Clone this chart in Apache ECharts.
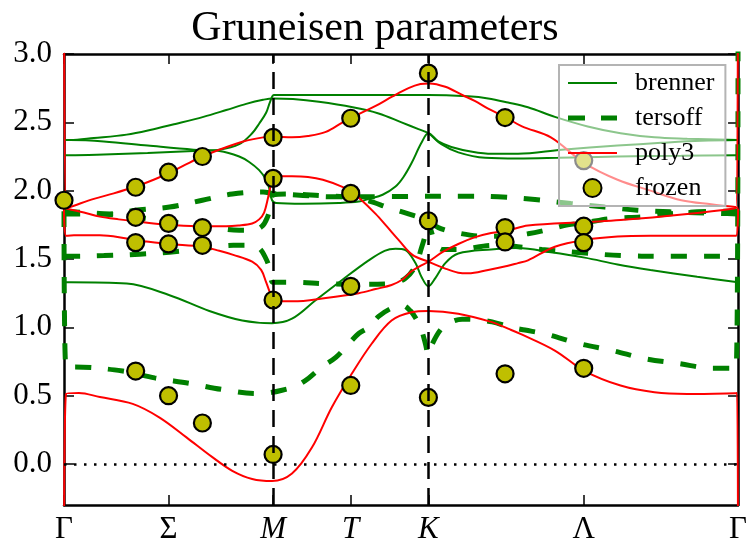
<!DOCTYPE html>
<html>
<head>
<meta charset="utf-8">
<script src="https://cdn.jsdelivr.net/npm/echarts@6/dist/echarts.min.js"></script>
<style>
    html, body { margin: 0; padding: 0; background: #fff; }
    #container { width: 750px; height: 546px; }
</style>
</head>
<body>
<div id="container"></div>
<script>
    // 路径上的刻度
    let tickLabels = ['Γ', 'Σ', 'M', 'T', 'K', 'Λ', 'Γ'];
    let tickPos = [0, 105, 210, 288, 366, 522, 677];
    let yTicks = [0, 0.5, 1, 1.5, 2, 2.5, 3];

    // brenner
    let brenner1 = [[0,2.37],[6,2.37],[30,2.385],[63,2.41],[90,2.45],[113,2.49],[140,2.54],[163,2.59],[183,2.635],[200,2.665],[210,2.675],[230,2.67],[256,2.65],[290,2.61],[316,2.565],[339,2.50],[356,2.45],[366,2.42],[379,2.34],[396,2.28],[423,2.24],[456,2.235],[496,2.24],[556,2.25],[620,2.255],[677,2.26]];
    let brenner2 = [[0,2.26],[6,2.26],[40,2.265],[84,2.275],[130,2.29],[156,2.30],[176,2.34],[189,2.42],[196,2.49],[203,2.57],[207,2.65],[211,2.70],[230,2.70],[280,2.70],[330,2.70],[366,2.70],[406,2.69],[426,2.675],[446,2.645],[466,2.61],[493,2.54],[526,2.47],[559,2.42],[593,2.39],[626,2.38],[677,2.37]];
    let brenner3 = [[0,2.37],[6,2.37],[40,2.36],[84,2.33],[130,2.30],[156,2.29],[176,2.25],[186,2.21],[196,2.15],[203,2.08],[206,2.02],[209,1.93],[213,1.91],[240,1.905],[276,1.91],[296,1.92],[306,1.94],[320,1.97],[333,2.03],[341,2.10],[349,2.20],[359,2.35],[366,2.42],[376,2.36],[389,2.32],[410,2.285],[430,2.27],[456,2.27],[500,2.30],[556,2.33],[600,2.35],[640,2.365],[677,2.37]];
    let brenner4 = [[0,1.33],[6,1.33],[63,1.32],[106,1.235],[146,1.12],[179,1.05],[209,1.03],[229,1.063],[253,1.20],[279,1.345],[306,1.49],[322,1.56],[333,1.575],[343,1.565],[353,1.47],[359,1.37],[366,1.30],[373,1.36],[383,1.47],[396,1.54],[429,1.57],[456,1.58],[489,1.55],[523,1.51],[556,1.46],[589,1.42],[636,1.37],[677,1.33]];

    // tersoff
    let tersoff1 = [[0,1.83],[6,1.83],[43,1.83],[76,1.86],[106,1.88],[139,1.93],[169,1.975],[200,1.99],[210,1.98],[240,1.965],[270,1.955],[330,1.957],[406,1.96],[436,1.955],[473,1.935],[509,1.906],[543,1.88],[576,1.857],[609,1.845],[659,1.834],[677,1.83]];
    let tersoff2 = [[0,1.85],[40,1.83],[80,1.80],[120,1.76],[150,1.73],[176,1.71],[190,1.71],[199,1.74],[204,1.80],[208,1.90],[210,1.97],[230,1.975],[256,1.965],[290,1.95],[306,1.925],[326,1.875],[346,1.83],[366,1.78],[376,1.73],[396,1.69],[423,1.665],[446,1.67],[466,1.685],[489,1.72],[506,1.75],[523,1.765],[548,1.795],[582,1.81],[617,1.837],[651,1.848],[677,1.85]];
    let tersoff3 = [[0,1.52],[6,1.52],[40,1.525],[76,1.535],[106,1.55],[140,1.575],[170,1.60],[186,1.60],[196,1.58],[203,1.50],[207,1.42],[210,1.33],[233,1.33],[260,1.32],[290,1.315],[329,1.32],[343,1.36],[353,1.45],[359,1.58],[363,1.68],[366,1.78],[369,1.70],[373,1.62],[380,1.57],[396,1.57],[430,1.60],[456,1.59],[480,1.57],[520,1.545],[560,1.525],[600,1.52],[677,1.52]];
    let tersoff4 = [[0,1.85],[2,0.71],[11,0.71],[59,0.68],[91,0.63],[126,0.59],[159,0.545],[193,0.515],[205,0.52],[219,0.54],[233,0.57],[246,0.63],[259,0.71],[273,0.78],[286,0.88],[296,0.955],[306,1.0],[316,1.08],[329,1.14],[340,1.16],[348,1.12],[353,1.07],[359,0.98],[363,0.88],[366,0.80],[370,0.88],[378,0.98],[386,1.03],[400,1.06],[416,1.055],[430,1.04],[449,1.0],[463,0.98],[484,0.95],[518,0.88],[551,0.83],[584,0.77],[618,0.735],[651,0.70],[675,0.70],[677,3.2]];

    // poly3
    let poly1 = [[0,4],[2,1.87],[10,1.89],[30,1.94],[50,1.98],[72,2.03],[90,2.08],[106,2.13],[122,2.19],[139,2.25],[160,2.31],[180,2.36],[200,2.39],[210,2.395],[229,2.39],[245,2.40],[263,2.43],[280,2.50],[296,2.56],[313,2.62],[330,2.69],[346,2.75],[358,2.78],[367,2.785],[383,2.76],[400,2.70],[413,2.655],[426,2.60],[443,2.54],[460,2.47],[489,2.39],[523,2.20],[556,2.08],[589,2.00],[620,1.93],[650,1.90],[675,1.88],[677,4]];
    let poly2 = [[2,1.87],[20,1.84],[36,1.81],[55,1.79],[73,1.775],[90,1.76],[106,1.75],[139,1.74],[163,1.74],[175,1.745],[189,1.76],[196,1.79],[201,1.84],[205,1.95],[207,2.02],[210,2.09],[220,2.105],[229,2.105],[245,2.10],[260,2.08],[279,2.03],[289,1.99],[296,1.95],[313,1.83],[324,1.74],[336,1.64],[350,1.53],[366,1.48],[383,1.43],[396,1.40],[406,1.395],[426,1.42],[446,1.45],[456,1.47],[466,1.49],[493,1.59],[523,1.64],[556,1.665],[589,1.67],[675,1.67],[677,1.87]];
    let poly3 = [[0,1.87],[2,1.67],[10,1.673],[36,1.673],[63,1.65],[80,1.63],[106,1.61],[139,1.59],[156,1.56],[170,1.53],[189,1.48],[198,1.42],[203,1.33],[207,1.25],[210,1.19],[230,1.19],[263,1.215],[296,1.25],[313,1.28],[329,1.31],[340,1.35],[349,1.41],[358,1.45],[366,1.48],[380,1.55],[396,1.61],[413,1.66],[429,1.69],[446,1.71],[466,1.745],[523,1.77],[559,1.785],[626,1.83],[673,1.87],[677,1.88]];
    let poly4 = [[0,-1],[2,0.513],[15,0.52],[36,0.49],[69,0.44],[96,0.34],[123,0.195],[149,0.05],[169,-0.05],[189,-0.11],[209,-0.125],[229,-0.07],[249,0.12],[269,0.415],[289,0.66],[309,0.88],[329,1.05],[349,1.11],[366,1.12],[396,1.10],[429,1.04],[446,0.99],[459,0.95],[493,0.83],[523,0.68],[559,0.574],[593,0.525],[626,0.513],[674,0.518],[676,0.52],[677,-1]];

    // frozen
    let frozen = [[0,1.93],
        [72,2.025],[72,1.805],[72,1.62],[72,0.68],
        [105,2.135],[105,1.76],[105,1.61],[105,0.50],
        [139,2.25],[139,1.73],[139,1.60],[139,0.30],
        [210,2.39],[210,2.09],[210,1.20],[210,0.07],
        [288,2.53],[288,1.98],[288,1.30],[288,0.575],
        [366,2.86],[366,1.78],[366,0.487],
        [443,2.535],[443,1.73],[443,1.625],[443,0.66],
        [522,2.22],[522,1.74],[522,1.62],[522,0.70]];

    let serif = "'Liberation Serif', 'DejaVu Serif', serif";

    function makeLine(name, data, color, width, type) {
        return {
            name: name,
            type: 'line',
            data: data,
            symbol: 'none',
            smooth: 0.35,
            color: color,
            lineStyle: { color: color, width: width, type: type },
            clip: true,
            z: 2
        };
    }

    function getCharts() {
        let dom = document.getElementById("container");
        let myChart = echarts.init(dom);
        let series = [];
        // 辅助线
        series.push({
            type: 'line',
            data: [],
            z: 1,
            markLine: {
                silent: true,
                symbol: ['none', 'none'],
                label: { show: false },
                lineStyle: { color: '#000', width: 2.5, type: [17, 9] },
                data: [
                    { xAxis: 210 },
                    { xAxis: 366 },
                    { yAxis: 0, lineStyle: { color: '#000', width: 2.5, type: [2.5, 7.5] } }
                ]
            }
        });
        [brenner1, brenner2, brenner3, brenner4].forEach(function(d) {
            series.push(makeLine('brenner', d, '#008000', 2, 'solid'));
        });
        [tersoff1, tersoff2, tersoff3, tersoff4].forEach(function(d) {
            series.push(makeLine('tersoff', d, '#008000', 5, [16, 17]));
        });
        [poly1, poly2, poly3, poly4].forEach(function(d) {
            series.push(makeLine('poly3', d, '#ff0000', 2, 'solid'));
        });
        series.push({
            name: 'frozen',
            type: 'scatter',
            data: frozen,
            symbol: 'circle',
            symbolSize: 17,
            clip: false,
            z: 3,
            itemStyle: { color: '#bfbf00', borderColor: '#000', borderWidth: 2.2, opacity: 1 }
        });

        let xBase = {
            type: 'value', min: 0, max: 677,
            splitLine: { show: false },
            axisLine: { show: true, onZero: false, lineStyle: { color: '#000', width: 2.5 } },
            axisTick: { show: true, inside: true, length: 10, customValues: tickPos, lineStyle: { color: '#000', width: 1.5 } }
        };
        let yBase = {
            type: 'value', min: -0.3, max: 3.0,
            splitLine: { show: false },
            axisLine: { show: true, onZero: false, lineStyle: { color: '#000', width: 2.5 } },
            axisTick: { show: true, inside: true, length: 10, customValues: yTicks, lineStyle: { color: '#000', width: 1.5 } }
        };

        let option = {
            animation: false,
            backgroundColor: '#fff',
            title: {
                text: 'Gruneisen parameters',
                left: 'center',
                top: 3,
                textStyle: { fontFamily: serif, fontSize: 42, fontWeight: 'normal', color: '#000' }
            },
            legend: {
                data: [
                    { name: 'brenner', icon: 'path://M0,0h49v2.2h-49z' },
                    { name: 'tersoff', icon: 'path://M0,0h17v5h-17z M33,0h16v5h-16z' },
                    { name: 'poly3', icon: 'path://M0,0h49v2.2h-49z' },
                    { name: 'frozen', icon: 'circle' }
                ],
                orient: 'vertical',
                left: 559,
                top: 65,
                padding: [5, 11, 5, 9],
                itemWidth: 49,
                itemHeight: 18,
                itemGap: 9,
                backgroundColor: 'rgba(255,255,255,0.55)',
                borderColor: '#b4b4b4',
                borderWidth: 2,
                borderRadius: 0,
                textStyle: { fontFamily: serif, fontSize: 26, color: '#000', lineHeight: 25, padding: [0, 0, 0, 13] }
            },
            grid: { left: 64, right: 9, top: 54, bottom: 41 },
            xAxis: [
                Object.assign({}, xBase, {
                    position: 'bottom',
                    axisLabel: {
                        show: true,
                        customValues: tickPos,
                        margin: 9,
                        fontFamily: serif,
                        fontSize: 31,
                        color: '#000',
                        formatter: function(value) {
                            let i = tickPos.indexOf(value);
                            let t = tickLabels[i];
                            if (t === 'M' || t === 'T' || t === 'K') {
                                return '{i|' + t + '}';
                            }
                            return t;
                        },
                        rich: { i: { fontFamily: serif, fontSize: 31, fontStyle: 'italic', color: '#000' } }
                    }
                }),
                Object.assign({}, xBase, { position: 'top', axisLabel: { show: false } })
            ],
            yAxis: [
                Object.assign({}, yBase, {
                    position: 'left',
                    axisLabel: {
                        show: true,
                        customValues: yTicks,
                        margin: 12,
                        fontFamily: serif,
                        fontSize: 31,
                        color: '#000',
                        formatter: function(value) { return value.toFixed(1); }
                    }
                }),
                Object.assign({}, yBase, { position: 'right', axisLabel: { show: false } })
            ],
            series: series
        };
        myChart.setOption(option, true);
    }

    getCharts();
</script>
</body>
</html>
